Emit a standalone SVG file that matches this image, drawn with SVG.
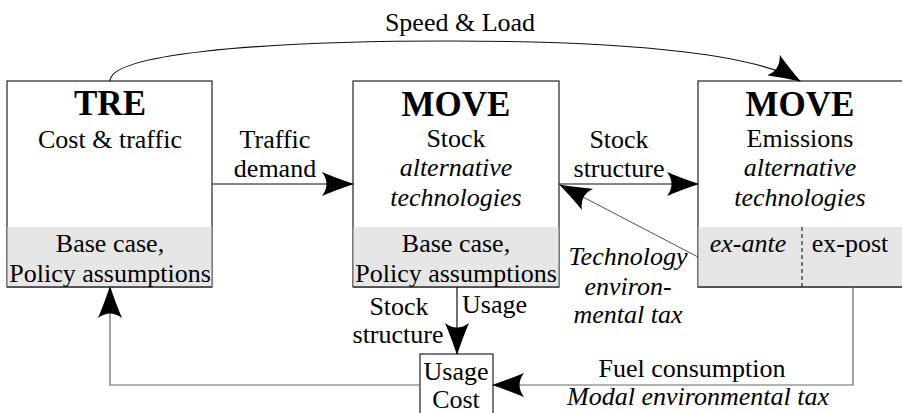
<svg xmlns="http://www.w3.org/2000/svg" width="902" height="413" viewBox="0 0 902 413" font-family="Liberation Serif, Times New Roman, DejaVu Serif, serif">
<style>
text{font-family:'Liberation Serif','Times New Roman','DejaVu Serif',serif;font-size:26px;fill:#000;text-anchor:middle}
.b{font-weight:bold;font-size:35px}
.i{font-style:italic}
.box{fill:#fff;stroke:#222;stroke-width:1.2}
.band{fill:#e6e6e6;stroke:none}
.ln{fill:none;stroke:#111;stroke-width:1.2}
.gl{fill:none;stroke:#666;stroke-width:1.2}
</style>
<defs>
<marker id="ah" viewBox="0 0 32 24" refX="31" refY="12" markerWidth="32" markerHeight="24" markerUnits="userSpaceOnUse" orient="auto">
<path d="M0,0 Q14,6 32,12 Q14,18 0,24 Q9,12 0,0 Z" fill="#000"/>
</marker>
</defs>
<g id="tre">
<rect class="box" x="7" y="81" width="205" height="206"/>
<rect class="band" x="7.6" y="227" width="203.8" height="59.4"/>
<line x1="7" y1="287" x2="212" y2="287" stroke="#444" stroke-width="1.5"/>
<text class="b" x="110" y="115">TRE</text>
<text x="110" y="148">Cost &amp; traffic</text>
<text x="110" y="252">Base case,</text>
<text x="110" y="282">Policy assumptions</text>
</g>
<g id="move-stock">
<rect class="box" x="353" y="81" width="206" height="206"/>
<rect class="band" x="353.6" y="227" width="204.8" height="59.4"/>
<line x1="353" y1="287" x2="559" y2="287" stroke="#444" stroke-width="1.5"/>
<text class="b" x="456" y="116">MOVE</text>
<text x="456" y="147">Stock</text>
<text class="i" x="456" y="176">alternative</text>
<text class="i" x="456" y="206">technologies</text>
<text x="456" y="252">Base case,</text>
<text x="456" y="282">Policy assumptions</text>
</g>
<g id="move-emissions">
<rect class="box" x="698" y="81" width="206" height="206"/>
<rect class="band" x="698.6" y="227" width="204.8" height="59.4"/>
<line x1="698" y1="287" x2="904" y2="287" stroke="#444" stroke-width="1.5"/>
<text class="b" x="800" y="116">MOVE</text>
<text x="800" y="147">Emissions</text>
<text class="i" x="800" y="176">alternative</text>
<text class="i" x="800" y="206">technologies</text>
<line x1="802" y1="227" x2="802" y2="287" stroke="#000" stroke-width="1" stroke-dasharray="4,3"/>
<text class="i" x="748" y="252">ex-ante</text>
<text x="850" y="252">ex-post</text>
</g>
<g id="usage-cost">
<rect class="box" x="420" y="354" width="73" height="70"/>
<text x="456" y="380">Usage</text>
<text x="456" y="408">Cost</text>
</g>
<g id="connectors">
<path class="ln" d="M110,81 C110,55 250,41 450,41 C650,41 760,57 800,81" marker-end="url(#ah)"/>
<line class="ln" x1="212" y1="184" x2="353" y2="184" marker-end="url(#ah)"/>
<line class="ln" x1="559" y1="184" x2="698" y2="184" marker-end="url(#ah)"/>
<line x1="698" y1="257" x2="560" y2="185" stroke="#222" stroke-width="0.8" marker-end="url(#ah)"/>
<line class="ln" x1="457" y1="287" x2="457" y2="354" marker-end="url(#ah)"/>
<path class="gl" d="M853,287 L853,385 L493,385" marker-end="url(#ah)"/>
<path class="gl" d="M420,385 L110,385 L110,287" marker-end="url(#ah)"/>
</g>
<g id="labels">
<text x="460" y="31">Speed &amp; Load</text>
<text x="275" y="148">Traffic</text>
<text x="275" y="177">demand</text>
<text x="619" y="148">Stock</text>
<text x="619" y="177">structure</text>
<text class="i" x="628" y="265">Technology</text>
<text class="i" x="628" y="295">environ-</text>
<text class="i" x="628" y="323">mental tax</text>
<text x="399" y="315">Stock</text>
<text x="398" y="343">structure</text>
<text x="462" y="313" style="text-anchor:start">Usage</text>
<text x="692" y="377">Fuel consumption</text>
<text class="i" x="698" y="405">Modal environmental tax</text>
</g>
</svg>
